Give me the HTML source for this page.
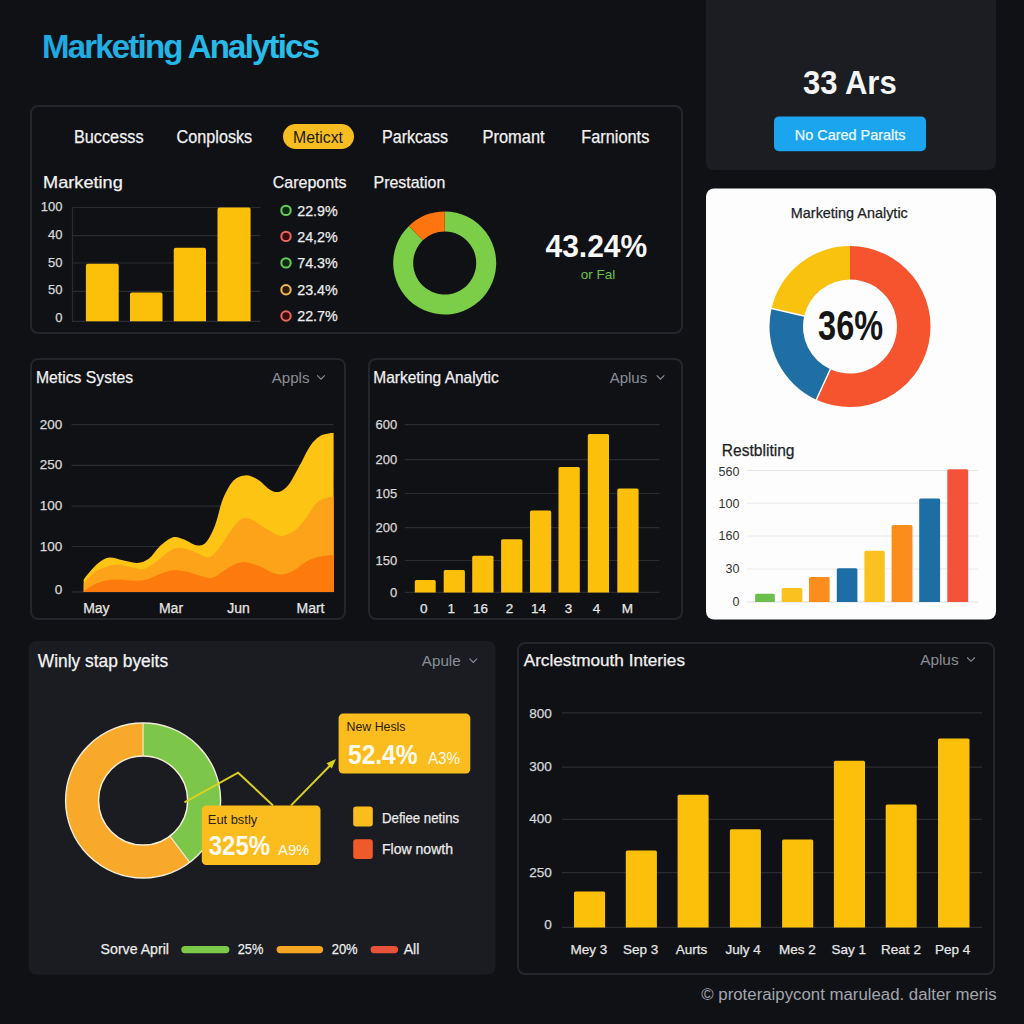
<!DOCTYPE html>
<html><head><meta charset="utf-8"><title>Marketing Analytics</title>
<style>
html,body{margin:0;padding:0;background:#101115;}
body{width:1024px;height:1024px;overflow:hidden;}
svg{display:block;}
text{font-family:"Liberation Sans",Arial,sans-serif;}
</style></head>
<body>
<svg width="1024" height="1024" viewBox="0 0 1024 1024">
<rect width="1024" height="1024" fill="#101115"/>
<defs><linearGradient id="tg" x1="0" y1="0" x2="1" y2="0"><stop offset="0" stop-color="#1ea8e0"/><stop offset="1" stop-color="#2cc2ec"/></linearGradient><radialGradient id="trg" cx="0.5" cy="0.3" r="0.8"><stop offset="0" stop-color="#1e2027"/><stop offset="1" stop-color="#1b1c20"/></radialGradient></defs>
<text x="42" y="57.5" font-size="33" font-weight="700" fill="url(#tg)" textLength="278" lengthAdjust="spacing">Marketing Analytics</text>
<rect x="31.0" y="106.0" width="651" height="227" rx="7" fill="none" stroke="#24262b" stroke-width="2"/>
<text x="74" y="143" font-size="17.5" fill="#f2f2f2" textLength="69.5" lengthAdjust="spacingAndGlyphs" stroke="#f2f2f2" stroke-width="0.25">Buccesss</text>
<text x="176.6" y="143" font-size="17.5" fill="#f2f2f2" textLength="75.6" lengthAdjust="spacingAndGlyphs" stroke="#f2f2f2" stroke-width="0.25">Conplosks</text>
<text x="382" y="143" font-size="17.5" fill="#f2f2f2" textLength="66" lengthAdjust="spacingAndGlyphs" stroke="#f2f2f2" stroke-width="0.25">Parkcass</text>
<text x="482.6" y="143" font-size="17.5" fill="#f2f2f2" textLength="62" lengthAdjust="spacingAndGlyphs" stroke="#f2f2f2" stroke-width="0.25">Promant</text>
<text x="581.3" y="143" font-size="17.5" fill="#f2f2f2" textLength="68" lengthAdjust="spacingAndGlyphs" stroke="#f2f2f2" stroke-width="0.25">Farnionts</text>
<rect x="283" y="124" width="71" height="25" rx="12.5" fill="#f6bd20"/>
<text x="293" y="143" font-size="16" fill="#1d1a12" textLength="50" lengthAdjust="spacingAndGlyphs">Meticxt</text>
<text x="43.1" y="188" font-size="17" fill="#f2f2f2" textLength="79.7" lengthAdjust="spacingAndGlyphs" stroke="#f2f2f2" stroke-width="0.25">Marketing</text>
<text x="272.8" y="187.5" font-size="17" fill="#f2f2f2" textLength="73.8" lengthAdjust="spacingAndGlyphs" stroke="#f2f2f2" stroke-width="0.25">Careponts</text>
<text x="373.5" y="187.5" font-size="17" fill="#f2f2f2" textLength="71.8" lengthAdjust="spacingAndGlyphs" stroke="#f2f2f2" stroke-width="0.25">Prestation</text>
<line x1="72" y1="207.5" x2="260.5" y2="207.5" stroke="#2a2c31" stroke-width="1.2"/>
<line x1="72" y1="235.7" x2="260.5" y2="235.7" stroke="#2a2c31" stroke-width="1.2"/>
<line x1="72" y1="263" x2="260.5" y2="263" stroke="#2a2c31" stroke-width="1.2"/>
<line x1="72" y1="291.3" x2="260.5" y2="291.3" stroke="#2a2c31" stroke-width="1.2"/>
<line x1="72" y1="321.3" x2="260.5" y2="321.3" stroke="#2a2c31" stroke-width="1.2"/>
<line x1="72.5" y1="207" x2="72.5" y2="321.5" stroke="#2a2c31" stroke-width="1.2"/>
<text x="62.4" y="211.3" font-size="13" fill="#d9d9d9" text-anchor="end" stroke="#d9d9d9" stroke-width="0.25">100</text>
<text x="62.4" y="238.6" font-size="13" fill="#d9d9d9" text-anchor="end" stroke="#d9d9d9" stroke-width="0.25">40</text>
<text x="62.4" y="266.5" font-size="13" fill="#d9d9d9" text-anchor="end" stroke="#d9d9d9" stroke-width="0.25">50</text>
<text x="62.4" y="294.4" font-size="13" fill="#d9d9d9" text-anchor="end" stroke="#d9d9d9" stroke-width="0.25">50</text>
<text x="62.4" y="321.7" font-size="13" fill="#d9d9d9" text-anchor="end" stroke="#d9d9d9" stroke-width="0.25">0</text>
<path d="M85.9,321.3 V265.7 Q85.9,263.7 87.9,263.7 H116.7 Q118.7,263.7 118.7,265.7 V321.3 Z" fill="#fcbf0a"/>
<path d="M130,321.3 V294.5 Q130,292.5 132,292.5 H160.5 Q162.5,292.5 162.5,294.5 V321.3 Z" fill="#fcbf0a"/>
<path d="M173.75,321.3 V249.8 Q173.75,247.8 175.75,247.8 H204 Q206,247.8 206,249.8 V321.3 Z" fill="#fcbf0a"/>
<path d="M217.5,321.3 V209.5 Q217.5,207.5 219.5,207.5 H248.6 Q250.6,207.5 250.6,209.5 V321.3 Z" fill="#fcbf0a"/>
<circle cx="286" cy="210.4" r="4.7" fill="#0f2a12" stroke="#66cc5c" stroke-width="2"/>
<text x="297.2" y="215.6" font-size="15" fill="#ececec" textLength="40.5" lengthAdjust="spacingAndGlyphs" stroke="#ececec" stroke-width="0.25">22.9%</text>
<circle cx="286" cy="236.4" r="4.7" fill="#3a0c0c" stroke="#ee6560" stroke-width="2"/>
<text x="297.2" y="241.6" font-size="15" fill="#ececec" textLength="40.5" lengthAdjust="spacingAndGlyphs" stroke="#ececec" stroke-width="0.25">24,2%</text>
<circle cx="286" cy="262.9" r="4.7" fill="#0f2a12" stroke="#66cc5c" stroke-width="2"/>
<text x="297.2" y="268.09999999999997" font-size="15" fill="#ececec" textLength="40.5" lengthAdjust="spacingAndGlyphs" stroke="#ececec" stroke-width="0.25">74.3%</text>
<circle cx="286" cy="289.7" r="4.7" fill="#2e1e08" stroke="#f3bb55" stroke-width="2"/>
<text x="297.2" y="294.9" font-size="15" fill="#ececec" textLength="40.5" lengthAdjust="spacingAndGlyphs" stroke="#ececec" stroke-width="0.25">23.4%</text>
<circle cx="286" cy="316" r="4.7" fill="#3a0c0c" stroke="#ee6560" stroke-width="2"/>
<text x="297.2" y="321.2" font-size="15" fill="#ececec" textLength="40.5" lengthAdjust="spacingAndGlyphs" stroke="#ececec" stroke-width="0.25">22.7%</text>
<path d="M444.70,211.50 A51.5,51.5 0 1 1 408.93,225.95 L422.82,240.34 A31.5,31.5 0 1 0 444.70,231.50 Z" fill="#7ccd48"/>
<path d="M408.93,225.95 A51.5,51.5 0 0 1 444.70,211.50 L444.70,231.50 A31.5,31.5 0 0 0 422.82,240.34 Z" fill="#fe740f"/>
<text x="545.5" y="257.4" font-size="32" fill="#f7f7f7" font-weight="700" textLength="101.7" lengthAdjust="spacingAndGlyphs">43.24%</text>
<text x="580.7" y="279" font-size="13.5" fill="#6cc247" textLength="34.6" lengthAdjust="spacingAndGlyphs">or Fal</text>
<path d="M706,0 H996 V162 Q996,170 988,170 H714 Q706,170 706,162 Z" fill="#1b1d22"/>
<text x="803" y="94" font-size="34" fill="#f5f5f5" font-weight="700" textLength="93.7" lengthAdjust="spacingAndGlyphs">33 Ars</text>
<rect x="774" y="116.4" width="152" height="34.8" rx="5" fill="#1aa5ee"/>
<text x="794.8" y="140.2" font-size="14.5" fill="#eef8ff" textLength="110.7" lengthAdjust="spacingAndGlyphs" stroke="#eef8ff" stroke-width="0.25">No Cared Paralts</text>
<rect x="706" y="188.5" width="290" height="431" rx="8" fill="#fdfdfd"/>
<text x="790.8" y="217.5" font-size="14.5" fill="#222" textLength="117" lengthAdjust="spacingAndGlyphs" stroke="#222" stroke-width="0.25">Marketing Analytic</text>
<path d="M850.00,246.00 A80.5,80.5 0 1 1 816.36,399.63 L830.36,369.20 A47,47 0 1 0 850.00,279.50 Z" fill="#f6532f"/>
<path d="M816.36,399.63 A80.5,80.5 0 0 1 771.56,308.39 L804.20,315.93 A47,47 0 0 0 830.36,369.20 Z" fill="#1f6ea4"/>
<path d="M771.56,308.39 A80.5,80.5 0 0 1 850.00,246.00 L850.00,279.50 A47,47 0 0 0 804.20,315.93 Z" fill="#f9c20f"/>
<line x1="830.7781146051504" y1="368.2913761662292" x2="815.9438334852123" y2="400.54341646842784" stroke="#fdfdfd" stroke-width="1.5"/>
<line x1="805.1789770198792" y1="316.1522515001822" x2="770.5888397200033" y2="308.166489070975" stroke="#fdfdfd" stroke-width="1.5"/>
<text x="850.6" y="339.9" font-size="43" fill="#151515" text-anchor="middle" font-weight="700" textLength="65" lengthAdjust="spacingAndGlyphs">36%</text>
<text x="721.8" y="456" font-size="16" fill="#1e1e1e" textLength="72.7" lengthAdjust="spacingAndGlyphs" stroke="#1e1e1e" stroke-width="0.25">Restbliting</text>
<line x1="747" y1="470.5" x2="978" y2="470.5" stroke="#e8e8e8" stroke-width="1"/>
<line x1="747" y1="503.2" x2="978" y2="503.2" stroke="#e8e8e8" stroke-width="1"/>
<line x1="747" y1="536" x2="978" y2="536" stroke="#e8e8e8" stroke-width="1"/>
<line x1="747" y1="569" x2="978" y2="569" stroke="#e8e8e8" stroke-width="1"/>
<line x1="747" y1="602" x2="978" y2="602" stroke="#e0e0e0" stroke-width="1"/>
<text x="739.4" y="476" font-size="12.5" fill="#333" text-anchor="end">560</text>
<text x="739.4" y="507.5" font-size="12.5" fill="#333" text-anchor="end">100</text>
<text x="739.4" y="539.5" font-size="12.5" fill="#333" text-anchor="end">160</text>
<text x="739.4" y="572.8" font-size="12.5" fill="#333" text-anchor="end">30</text>
<text x="739.4" y="606" font-size="12.5" fill="#333" text-anchor="end">0</text>
<path d="M755.1,602 V595.3 Q755.1,593.8 756.6,593.8 H773.3 Q774.8,593.8 774.8,595.3 V602 Z" fill="#6cbf4a"/>
<path d="M781.7,602 V589.5 Q781.7,588 783.2,588 H800.8 Q802.3,588 802.3,589.5 V602 Z" fill="#fbc11f"/>
<path d="M809,602 V578.6 Q809,577.1 810.5,577.1 H828.1 Q829.6,577.1 829.6,578.6 V602 Z" fill="#fb8d1d"/>
<path d="M836.8,602 V569.8 Q836.8,568.3 838.3,568.3 H855.9 Q857.4,568.3 857.4,569.8 V602 Z" fill="#1d6ea5"/>
<path d="M864.4,602 V552.3 Q864.4,550.8 865.9,550.8 H883.2 Q884.7,550.8 884.7,552.3 V602 Z" fill="#fbc11f"/>
<path d="M891.6,602 V526.5 Q891.6,525 893.1,525 H911.0 Q912.5,525 912.5,526.5 V602 Z" fill="#fb8d1d"/>
<path d="M919.2,602 V499.9 Q919.2,498.4 920.7,498.4 H938.6 Q940.1,498.4 940.1,499.9 V602 Z" fill="#1d6ea5"/>
<path d="M947.3,602 V470.8 Q947.3,469.3 948.8,469.3 H966.7 Q968.2,469.3 968.2,470.8 V602 Z" fill="#f5523a"/>
<rect x="31.0" y="359.0" width="314" height="260" rx="7" fill="none" stroke="#24262b" stroke-width="2"/>
<text x="36" y="383.2" font-size="16.5" fill="#f2f2f2" textLength="97" lengthAdjust="spacingAndGlyphs" stroke="#f2f2f2" stroke-width="0.25">Metics Systes</text>
<text x="271.7" y="383" font-size="15.5" fill="#8a8e96" textLength="37.8" lengthAdjust="spacingAndGlyphs">Appls</text>
<path d="M317.2,375.3 L321,379.1 L324.8,375.3" fill="none" stroke="#8a8e96" stroke-width="1.1"/>
<line x1="71.5" y1="424.7" x2="333.6" y2="424.7" stroke="#2a2c31" stroke-width="1.2"/>
<line x1="71.5" y1="465.3" x2="333.6" y2="465.3" stroke="#2a2c31" stroke-width="1.2"/>
<line x1="71.5" y1="506.2" x2="333.6" y2="506.2" stroke="#2a2c31" stroke-width="1.2"/>
<line x1="71.5" y1="546.5" x2="333.6" y2="546.5" stroke="#2a2c31" stroke-width="1.2"/>
<line x1="71.5" y1="591.9" x2="333.6" y2="591.9" stroke="#2a2c31" stroke-width="1.2"/>
<text x="62.2" y="428.9" font-size="13.5" fill="#d9d9d9" text-anchor="end" stroke="#d9d9d9" stroke-width="0.25">200</text>
<text x="62.2" y="469.4" font-size="13.5" fill="#d9d9d9" text-anchor="end" stroke="#d9d9d9" stroke-width="0.25">250</text>
<text x="62.2" y="510.2" font-size="13.5" fill="#d9d9d9" text-anchor="end" stroke="#d9d9d9" stroke-width="0.25">100</text>
<text x="62.2" y="550.7" font-size="13.5" fill="#d9d9d9" text-anchor="end" stroke="#d9d9d9" stroke-width="0.25">100</text>
<text x="62.2" y="593.9000000000001" font-size="13.5" fill="#d9d9d9" text-anchor="end" stroke="#d9d9d9" stroke-width="0.25">0</text>
<text x="96.4" y="612.5" font-size="14" fill="#e6e6e6" text-anchor="middle" stroke="#e6e6e6" stroke-width="0.25">May</text>
<text x="171" y="612.5" font-size="14" fill="#e6e6e6" text-anchor="middle" stroke="#e6e6e6" stroke-width="0.25">Mar</text>
<text x="238.5" y="612.5" font-size="14" fill="#e6e6e6" text-anchor="middle" stroke="#e6e6e6" stroke-width="0.25">Jun</text>
<text x="310.5" y="612.5" font-size="14" fill="#e6e6e6" text-anchor="middle" stroke="#e6e6e6" stroke-width="0.25">Mart</text>
<path d="M83.7,579.5 C84.9,578.0 88.5,573.1 91.1,570.3 C93.6,567.4 95.9,564.5 99.0,562.4 C102.1,560.3 105.6,558.0 109.5,557.6 C113.5,557.3 118.1,559.4 122.7,560.3 C127.3,561.1 132.8,563.2 137.2,562.9 C141.6,562.6 145.4,561.1 149.1,558.4 C152.8,555.7 155.7,550.1 159.6,546.5 C163.6,543.0 168.9,538.6 172.8,537.3 C176.8,536.1 179.4,537.8 183.4,539.2 C187.3,540.5 192.8,544.7 196.5,545.2 C200.3,545.8 202.7,545.9 205.8,542.6 C208.9,539.3 212.1,532.7 215.0,525.5 C217.9,518.2 219.8,506.6 222.9,499.1 C226.0,491.6 229.7,484.6 233.5,480.6 C237.2,476.7 241.4,475.6 245.3,475.4 C249.3,475.1 253.0,476.9 257.2,479.3 C261.4,481.7 266.6,487.8 270.4,489.9 C274.1,491.9 276.5,492.6 279.6,491.7 C282.7,490.8 285.5,488.9 288.8,484.6 C292.1,480.3 295.9,472.5 299.4,466.1 C302.9,459.8 306.4,451.4 309.9,446.4 C313.4,441.3 316.5,438.1 320.5,435.8 C324.4,433.5 331.4,433.2 333.6,432.7 L333.6,591.9 L83.7,591.9 Z" fill="#fdc414"/>
<path d="M83.7,583.5 C85.4,581.7 90.3,575.5 93.7,572.9 C97.2,570.3 100.3,569.0 104.3,567.6 C108.2,566.2 113.1,564.6 117.5,564.5 C121.8,564.4 126.2,566.4 130.6,567.1 C135.0,567.9 139.4,570.0 143.8,569.0 C148.2,567.9 152.2,564.3 157.0,561.0 C161.8,557.8 168.0,551.3 172.8,549.2 C177.7,547.1 181.6,547.9 186.0,548.7 C190.4,549.4 195.2,552.5 199.2,553.9 C203.1,555.3 206.2,558.3 209.7,557.1 C213.2,555.9 216.8,550.9 220.3,546.5 C223.8,542.2 227.3,535.3 230.8,530.7 C234.3,526.1 237.9,520.7 241.4,518.9 C244.9,517.0 248.0,518.1 251.9,519.7 C255.9,521.2 260.3,525.4 265.1,528.1 C269.9,530.8 276.1,535.6 280.9,536.0 C285.7,536.4 290.1,533.4 294.1,530.7 C298.1,528.1 300.7,525.0 304.6,520.2 C308.6,515.4 313.0,505.7 317.8,501.7 C322.7,497.8 331.0,497.3 333.6,496.5 L333.6,591.9 L83.7,591.9 Z" fill="#fca31a"/>
<path d="M83.7,591.4 C85.4,590.3 89.9,586.6 93.7,584.8 C97.6,582.9 102.5,581.2 106.9,580.3 C111.3,579.4 115.7,579.4 120.1,579.5 C124.5,579.6 128.9,580.8 133.3,580.8 C137.7,580.8 142.1,580.6 146.5,579.5 C150.9,578.4 155.2,575.8 159.6,574.2 C164.0,572.7 168.4,570.7 172.8,570.3 C177.2,569.8 181.6,570.7 186.0,571.6 C190.4,572.5 194.8,574.5 199.2,575.5 C203.6,576.6 208.0,578.6 212.4,577.7 C216.8,576.7 221.6,572.1 225.5,569.7 C229.5,567.4 232.6,564.9 236.1,563.7 C239.6,562.5 242.7,561.9 246.6,562.4 C250.6,562.8 255.4,564.6 259.8,566.3 C264.2,568.1 269.1,571.6 273.0,572.9 C277.0,574.2 280.0,574.7 283.6,574.2 C287.1,573.8 290.1,572.5 294.1,570.3 C298.1,568.1 302.9,563.3 307.3,561.0 C311.7,558.8 316.1,557.6 320.5,556.6 C324.9,555.6 331.4,555.2 333.6,555.0 L333.6,591.9 L83.7,591.9 Z" fill="#fd7a0d"/>
<rect x="369.0" y="359.0" width="313" height="260" rx="7" fill="none" stroke="#24262b" stroke-width="2"/>
<text x="373.3" y="383" font-size="16.5" fill="#f2f2f2" textLength="125.5" lengthAdjust="spacingAndGlyphs" stroke="#f2f2f2" stroke-width="0.25">Marketing Analytic</text>
<text x="609.7" y="383" font-size="15.5" fill="#8a8e96" textLength="37.5" lengthAdjust="spacingAndGlyphs">Aplus</text>
<path d="M656.7,375.3 L660.5,379.1 L664.3,375.3" fill="none" stroke="#8a8e96" stroke-width="1.1"/>
<line x1="404.8" y1="424.7" x2="659.5" y2="424.7" stroke="#2a2c31" stroke-width="1.2"/>
<line x1="404.8" y1="459.6" x2="659.5" y2="459.6" stroke="#2a2c31" stroke-width="1.2"/>
<line x1="404.8" y1="493.5" x2="659.5" y2="493.5" stroke="#2a2c31" stroke-width="1.2"/>
<line x1="404.8" y1="527.6" x2="659.5" y2="527.6" stroke="#2a2c31" stroke-width="1.2"/>
<line x1="404.8" y1="560.5" x2="659.5" y2="560.5" stroke="#2a2c31" stroke-width="1.2"/>
<line x1="404.8" y1="592.4" x2="659.5" y2="592.4" stroke="#2a2c31" stroke-width="1.2"/>
<text x="397.2" y="428.7" font-size="13" fill="#d9d9d9" text-anchor="end" stroke="#d9d9d9" stroke-width="0.25">600</text>
<text x="397.2" y="463.6" font-size="13" fill="#d9d9d9" text-anchor="end" stroke="#d9d9d9" stroke-width="0.25">200</text>
<text x="397.2" y="497.8" font-size="13" fill="#d9d9d9" text-anchor="end" stroke="#d9d9d9" stroke-width="0.25">105</text>
<text x="397.2" y="531.6" font-size="13" fill="#d9d9d9" text-anchor="end" stroke="#d9d9d9" stroke-width="0.25">200</text>
<text x="397.2" y="564.8" font-size="13" fill="#d9d9d9" text-anchor="end" stroke="#d9d9d9" stroke-width="0.25">150</text>
<text x="397.2" y="597.4" font-size="13" fill="#d9d9d9" text-anchor="end" stroke="#d9d9d9" stroke-width="0.25">0</text>
<path d="M414.8,592.4 V581.6 Q414.8,580.1 416.3,580.1 H434.2 Q435.7,580.1 435.7,581.6 V592.4 Z" fill="#fcbf0a"/>
<path d="M443.7,592.4 V571.6 Q443.7,570.1 445.2,570.1 H463.4 Q464.9,570.1 464.9,571.6 V592.4 Z" fill="#fcbf0a"/>
<path d="M472.2,592.4 V557.3 Q472.2,555.8 473.7,555.8 H492.0 Q493.5,555.8 493.5,557.3 V592.4 Z" fill="#fcbf0a"/>
<path d="M501.1,592.4 V540.7 Q501.1,539.2 502.6,539.2 H520.9 Q522.4,539.2 522.4,540.7 V592.4 Z" fill="#fcbf0a"/>
<path d="M530,592.4 V511.9 Q530,510.4 531.5,510.4 H549.7 Q551.2,510.4 551.2,511.9 V592.4 Z" fill="#fcbf0a"/>
<path d="M558.5,592.4 V468.4 Q558.5,466.9 560.0,466.9 H578.3 Q579.8,466.9 579.8,468.4 V592.4 Z" fill="#fcbf0a"/>
<path d="M587.8,592.4 V435.5 Q587.8,434 589.3,434 H607.5 Q609,434 609,435.5 V592.4 Z" fill="#fcbf0a"/>
<path d="M617.3,592.4 V489.9 Q617.3,488.4 618.8,488.4 H637.1 Q638.6,488.4 638.6,489.9 V592.4 Z" fill="#fcbf0a"/>
<text x="423.7" y="613.3" font-size="13.5" fill="#e6e6e6" text-anchor="middle" stroke="#e6e6e6" stroke-width="0.25">0</text>
<text x="451.3" y="613.3" font-size="13.5" fill="#e6e6e6" text-anchor="middle" stroke="#e6e6e6" stroke-width="0.25">1</text>
<text x="480.5" y="613.3" font-size="13.5" fill="#e6e6e6" text-anchor="middle" stroke="#e6e6e6" stroke-width="0.25">16</text>
<text x="509.4" y="613.3" font-size="13.5" fill="#e6e6e6" text-anchor="middle" stroke="#e6e6e6" stroke-width="0.25">2</text>
<text x="538.6" y="613.3" font-size="13.5" fill="#e6e6e6" text-anchor="middle" stroke="#e6e6e6" stroke-width="0.25">14</text>
<text x="568.5" y="613.3" font-size="13.5" fill="#e6e6e6" text-anchor="middle" stroke="#e6e6e6" stroke-width="0.25">3</text>
<text x="596.4" y="613.3" font-size="13.5" fill="#e6e6e6" text-anchor="middle" stroke="#e6e6e6" stroke-width="0.25">4</text>
<text x="627.3" y="613.3" font-size="13.5" fill="#e6e6e6" text-anchor="middle" stroke="#e6e6e6" stroke-width="0.25">M</text>
<rect x="28.5" y="641" width="467" height="333.5" rx="8" fill="#1a1c21"/>
<text x="37.8" y="667" font-size="17.5" fill="#f4f4f4" textLength="130.3" lengthAdjust="spacingAndGlyphs" stroke="#f4f4f4" stroke-width="0.25">Winly stap byeits</text>
<text x="421.8" y="666" font-size="15.5" fill="#8a8e96" textLength="38.9" lengthAdjust="spacingAndGlyphs">Apule</text>
<path d="M469.5,658.5999999999999 L473.3,662.4 L477.1,658.5999999999999" fill="none" stroke="#8a8e96" stroke-width="1.1"/>
<path d="M143.10,723.00 A77.5,77.5 0 0 1 189.74,862.39 L169.88,836.04 A44.5,44.5 0 0 0 143.10,756.00 Z" fill="#7cc74a"/>
<path d="M189.74,862.39 A77.5,77.5 0 1 1 143.10,723.00 L143.10,756.00 A44.5,44.5 0 1 0 169.88,836.04 Z" fill="#f8a92a"/>
<circle cx="143.1" cy="800.5" r="77.5" fill="none" stroke="#f2ecd8" stroke-width="1.4"/>
<circle cx="143.1" cy="800.5" r="44.5" fill="none" stroke="#f2ecd8" stroke-width="1.4"/>
<line x1="143.1" y1="756.0" x2="143.1" y2="723.0" stroke="#f2ecd8" stroke-width="1.2"/>
<line x1="169.88076853026615" y1="836.0392801971045" x2="189.74066429428373" y2="862.3942520286652" stroke="#f2ecd8" stroke-width="1.2"/>
<polyline points="184.5,802.3 238.1,772.7 273,805.4" fill="none" stroke="#dcd01e" stroke-width="2"/>
<line x1="291.1" y1="805.4" x2="332" y2="763.5" stroke="#dcd01e" stroke-width="2"/>
<path d="M336,759 L326.5,763.2 L331.8,768.4 Z" fill="#dcd01e"/>
<rect x="338.6" y="713.6" width="131.7" height="60" rx="4.5" fill="#fbbd1d"/>
<text x="346.5" y="731.2" font-size="13.5" fill="#2a220c" textLength="59" lengthAdjust="spacingAndGlyphs">New Hesls</text>
<text x="348" y="764.2" font-size="28" fill="#fffaf0" font-weight="700" textLength="69.6" lengthAdjust="spacingAndGlyphs">52.4%</text>
<text x="428" y="763.6" font-size="16" fill="#fffaf0" textLength="32" lengthAdjust="spacingAndGlyphs">A3%</text>
<rect x="201.8" y="805.4" width="118.7" height="59.6" rx="4.5" fill="#fbbd1d"/>
<text x="207.8" y="823.5" font-size="13.5" fill="#2a220c" textLength="49.4" lengthAdjust="spacingAndGlyphs">Eut bstly</text>
<text x="208.8" y="855" font-size="27" fill="#fffaf0" font-weight="700" textLength="61.2" lengthAdjust="spacingAndGlyphs">325%</text>
<text x="278" y="855" font-size="15.5" fill="#fffaf0" textLength="31.3" lengthAdjust="spacingAndGlyphs">A9%</text>
<rect x="353.2" y="806.6" width="19.6" height="19.9" rx="3" fill="#fbbd1d"/>
<rect x="353.2" y="839.3" width="19.6" height="19.7" rx="3" fill="#f05a2b"/>
<text x="382" y="822.6" font-size="14.5" fill="#ececec" textLength="77.1" lengthAdjust="spacingAndGlyphs" stroke="#ececec" stroke-width="0.25">Defiee netins</text>
<text x="382" y="854.4" font-size="14.5" fill="#ececec" textLength="71" lengthAdjust="spacingAndGlyphs" stroke="#ececec" stroke-width="0.25">Flow nowth</text>
<text x="100.6" y="953.9" font-size="14.5" fill="#ececec" textLength="68.4" lengthAdjust="spacingAndGlyphs" stroke="#ececec" stroke-width="0.25">Sorve April</text>
<rect x="181.3" y="946" width="48.1" height="7.2" rx="3.6" fill="#7cc84a"/>
<text x="237.7" y="953.9" font-size="14.5" fill="#ececec" textLength="25.6" lengthAdjust="spacingAndGlyphs" stroke="#ececec" stroke-width="0.25">25%</text>
<rect x="276.6" y="946" width="46.5" height="7.2" rx="3.6" fill="#f5a623"/>
<text x="331.7" y="953.9" font-size="14.5" fill="#ececec" textLength="25.9" lengthAdjust="spacingAndGlyphs" stroke="#ececec" stroke-width="0.25">20%</text>
<rect x="370.5" y="946" width="27.6" height="7.2" rx="3.6" fill="#e8513a"/>
<text x="403.7" y="953.9" font-size="14.5" fill="#ececec" textLength="15.7" lengthAdjust="spacingAndGlyphs" stroke="#ececec" stroke-width="0.25">All</text>
<rect x="518.0" y="643.0" width="476" height="331" rx="7" fill="none" stroke="#24262b" stroke-width="2"/>
<text x="523.7" y="665.6" font-size="16.5" fill="#f2f2f2" textLength="161.3" lengthAdjust="spacingAndGlyphs" stroke="#f2f2f2" stroke-width="0.25">Arclestmouth Interies</text>
<text x="920.2" y="665" font-size="15.5" fill="#8a8e96" textLength="38.4" lengthAdjust="spacingAndGlyphs">Aplus</text>
<path d="M967.2,657.5 L971,661.3000000000001 L974.8,657.5" fill="none" stroke="#8a8e96" stroke-width="1.1"/>
<line x1="561.7" y1="712.9" x2="982.3" y2="712.9" stroke="#2a2c31" stroke-width="1.2"/>
<line x1="561.7" y1="767.2" x2="982.3" y2="767.2" stroke="#2a2c31" stroke-width="1.2"/>
<line x1="561.7" y1="819.4" x2="982.3" y2="819.4" stroke="#2a2c31" stroke-width="1.2"/>
<line x1="561.7" y1="872.7" x2="982.3" y2="872.7" stroke="#2a2c31" stroke-width="1.2"/>
<line x1="561.7" y1="927.4" x2="982.3" y2="927.4" stroke="#2a2c31" stroke-width="1.2"/>
<text x="551.8" y="717.9" font-size="13.5" fill="#d9d9d9" text-anchor="end" stroke="#d9d9d9" stroke-width="0.25">800</text>
<text x="551.8" y="771.2" font-size="13.5" fill="#d9d9d9" text-anchor="end" stroke="#d9d9d9" stroke-width="0.25">300</text>
<text x="551.8" y="823.4" font-size="13.5" fill="#d9d9d9" text-anchor="end" stroke="#d9d9d9" stroke-width="0.25">400</text>
<text x="551.8" y="876.7" font-size="13.5" fill="#d9d9d9" text-anchor="end" stroke="#d9d9d9" stroke-width="0.25">250</text>
<text x="551.8" y="929" font-size="13.5" fill="#d9d9d9" text-anchor="end" stroke="#d9d9d9" stroke-width="0.25">0</text>
<path d="M574,927.4 V892.9 Q574,891.4 575.5,891.4 H603.6 Q605.1,891.4 605.1,892.9 V927.4 Z" fill="#fcbf0a"/>
<path d="M625.8,927.4 V852.0 Q625.8,850.5 627.3,850.5 H655.4 Q656.9,850.5 656.9,852.0 V927.4 Z" fill="#fcbf0a"/>
<path d="M677.6,927.4 V796.3 Q677.6,794.8 679.1,794.8 H707.1 Q708.6,794.8 708.6,796.3 V927.4 Z" fill="#fcbf0a"/>
<path d="M729.9,927.4 V830.8 Q729.9,829.3 731.4,829.3 H759.4 Q760.9,829.3 760.9,830.8 V927.4 Z" fill="#fcbf0a"/>
<path d="M782.1,927.4 V841.1 Q782.1,839.6 783.6,839.6 H811.7 Q813.2,839.6 813.2,841.1 V927.4 Z" fill="#fcbf0a"/>
<path d="M833.9,927.4 V762.2 Q833.9,760.7 835.4,760.7 H863.5 Q865,760.7 865,762.2 V927.4 Z" fill="#fcbf0a"/>
<path d="M885.7,927.4 V806.1 Q885.7,804.6 887.2,804.6 H915.2 Q916.7,804.6 916.7,806.1 V927.4 Z" fill="#fcbf0a"/>
<path d="M938,927.4 V740.0 Q938,738.5 939.5,738.5 H968.0 Q969.5,738.5 969.5,740.0 V927.4 Z" fill="#fcbf0a"/>
<text x="588.8" y="954" font-size="13.5" fill="#e6e6e6" text-anchor="middle" stroke="#e6e6e6" stroke-width="0.25">Mey 3</text>
<text x="640.6" y="954" font-size="13.5" fill="#e6e6e6" text-anchor="middle" stroke="#e6e6e6" stroke-width="0.25">Sep 3</text>
<text x="691.4" y="954" font-size="13.5" fill="#e6e6e6" text-anchor="middle" stroke="#e6e6e6" stroke-width="0.25">Aurts</text>
<text x="743.2" y="954" font-size="13.5" fill="#e6e6e6" text-anchor="middle" stroke="#e6e6e6" stroke-width="0.25">July 4</text>
<text x="797.4" y="954" font-size="13.5" fill="#e6e6e6" text-anchor="middle" stroke="#e6e6e6" stroke-width="0.25">Mes 2</text>
<text x="848.7" y="954" font-size="13.5" fill="#e6e6e6" text-anchor="middle" stroke="#e6e6e6" stroke-width="0.25">Say 1</text>
<text x="901" y="954" font-size="13.5" fill="#e6e6e6" text-anchor="middle" stroke="#e6e6e6" stroke-width="0.25">Reat 2</text>
<text x="952.7" y="954" font-size="13.5" fill="#e6e6e6" text-anchor="middle" stroke="#e6e6e6" stroke-width="0.25">Pep 4</text>
<text x="701.3" y="999.5" font-size="16" fill="#a2a6ae" textLength="295.3" lengthAdjust="spacingAndGlyphs">&#169; proteraipycont marulead. dalter meris</text>
</svg>
</body></html>
